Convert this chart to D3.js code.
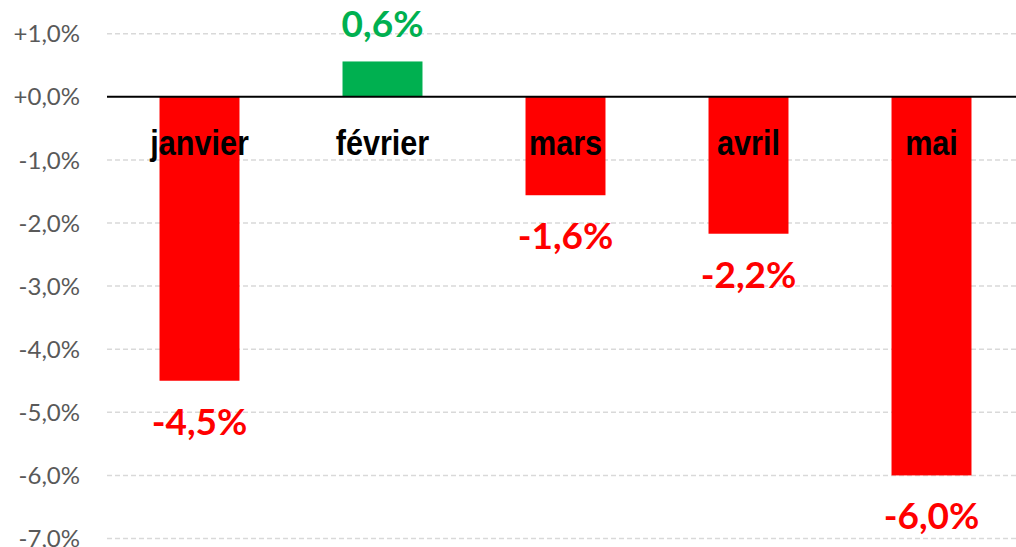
<!DOCTYPE html>
<html>
<head>
<meta charset="utf-8">
<script src="https://cdn.jsdelivr.net/npm/d3@7"></script>
<style>
  body { margin: 0; background: #fff; }
  .tick-label { font-family: Lato, "Open Sans", sans-serif; font-size: 24px; fill: #595959; }
  .cat-label { font-family: "Liberation Sans Narrow", "Liberation Sans", sans-serif; font-weight: bold; font-size: 36px; fill: #000; }
  .val-label { font-family: Lato, "Open Sans", sans-serif; font-weight: bold; font-size: 37px; }
</style>
</head>
<body>
<div id="chart"></div>
<script>
// data
var months = ["janvier", "février", "mars", "avril", "mai"];
var changes = [-4.5, 0.56, -1.56, -2.17, -6.0];
var yTicks = [1, 0, -1, -2, -3, -4, -5, -6, -7];

var width = 1016, height = 547;

var svg = d3.select("#chart").append("svg")
    .attr("width", width)
    .attr("height", height);

// scales
var y = d3.scaleLinear()
    .domain([-7, 1])
    .range([538.5, 33.7]);

var x = d3.scaleBand()
    .domain(months)
    .range([108, 1023])
    .paddingInner(0.563)
    .paddingOuter(0.2815);

// french decimal comma, plain hyphen for minus
var fr = d3.formatLocale({ decimal: ",", thousands: " ", grouping: [3], currency: ["", "€"], minus: "-" });
var fmt1 = fr.format(".1f");

// gridlines
svg.selectAll("line.grid")
    .data(yTicks.filter(function(t) { return t !== 0; }))
    .enter().append("line")
    .attr("class", "grid")
    .attr("x1", 107).attr("x2", width)
    .attr("y1", function(d) { return y(d); })
    .attr("y2", function(d) { return y(d); })
    .attr("stroke", "#d9d9d9")
    .attr("stroke-width", 1.5)
    .attr("stroke-dasharray", "5,3");

// tick labels
svg.selectAll("text.tick-label")
    .data(yTicks)
    .enter().append("text")
    .attr("class", "tick-label")
    .attr("x", 80)
    .attr("y", function(d) { return y(d); })
    .attr("dy", "0.36em")
    .attr("text-anchor", "end")
    .text(function(d) { return (d >= 0 ? "+" : "") + fmt1(d) + "%"; });

// bars
svg.selectAll("rect.bar")
    .data(changes)
    .enter().append("rect")
    .attr("class", "bar")
    .attr("x", function(d, i) { return x(months[i]); })
    .attr("width", x.bandwidth())
    .attr("y", function(d) { return y(Math.max(0, d)); })
    .attr("height", function(d) { return Math.abs(y(d) - y(0)); })
    .attr("fill", function(d) { return d >= 0 ? "#00b050" : "#ff0000"; });

// zero line
svg.append("line")
    .attr("x1", 107).attr("x2", width)
    .attr("y1", y(0)).attr("y2", y(0))
    .attr("stroke", "#000")
    .attr("stroke-width", 2);

// category labels (squeezed to look like a narrow font)
svg.selectAll("text.cat-label")
    .data(months)
    .enter().append("text")
    .attr("class", "cat-label")
    .attr("transform", function(d) {
        return "translate(" + (x(d) + x.bandwidth() / 2) + ",155) scale(0.85,1)";
    })
    .attr("text-anchor", "middle")
    .text(function(d) { return d; });

// value labels
svg.selectAll("text.val-label")
    .data(changes)
    .enter().append("text")
    .attr("class", "val-label")
    .attr("x", function(d, i) { return x(months[i]) + x.bandwidth() / 2; })
    .attr("y", function(d) { return d >= 0 ? y(d) - 24 : y(d) + 54; })
    .attr("text-anchor", "middle")
    .attr("fill", function(d) { return d >= 0 ? "#00b050" : "#ff0000"; })
    .text(function(d) { return fmt1(d) + "%"; });
</script>
</body>
</html>
